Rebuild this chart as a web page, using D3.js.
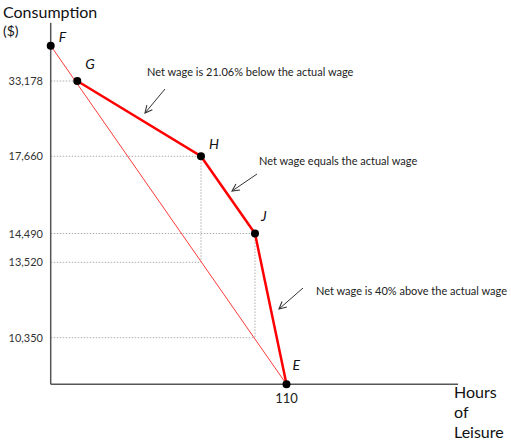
<!DOCTYPE html>
<html>
<head>
<meta charset="utf-8">
<script src="https://cdn.jsdelivr.net/npm/d3@7"></script>
<style>
  body { margin: 0; background: #fff; }
  text { font-family: Lato, "Open Sans", sans-serif; }
</style>
</head>
<body>
<div id="chart"></div>
<script>
// data
let pointNames = ["F", "G", "H", "J", "E"];
let leisure = [0, 12.4, 70.1, 95.3, 110];
let consumption = [36000, 33178, 17660, 14490, 0];
// the thin actual-wage line F -> E
let actualLeisure = [0, 110];
let actualConsumption = [36000, 0];
// y tick labels (axis is not drawn to scale)
let yTicks = [33178, 17660, 14490, 13520, 10350];
let yTickLeisure = [12.4, 70.1, 95.3, 70.1, 95.3];
let xTicks = [110];
let notes = [
  "Net wage is 21.06% below the actual wage",
  "Net wage equals the actual wage",
  "Net wage is 40% above the actual wage"
];

let svgWidth = 511;
let svgHeight = 440;

let svg = d3.select("#chart")
  .append("svg")
  .attr("width", svgWidth)
  .attr("height", svgHeight);

let x = d3.scaleLinear()
  .domain([0, 190])
  .range([50.7, 458]);

// piecewise scale, the picture is schematic
let y = d3.scaleLinear()
  .domain([0, 10350, 13520, 14490, 17660, 33178, 36000])
  .range([384.3, 337.7, 262.3, 233.5, 156.3, 81, 45.7]);

// dotted guide lines
yTicks.forEach(function(v, i) {
  svg.append("line")
    .attr("x1", x(0)).attr("x2", x(yTickLeisure[i]))
    .attr("y1", y(v)).attr("y2", y(v))
    .attr("stroke", "#999").attr("stroke-width", 0.8)
    .attr("stroke-dasharray", "1.5,1.5");
  if (i >= 3) {
    svg.append("line")
      .attr("x1", x(yTickLeisure[i])).attr("x2", x(yTickLeisure[i]))
      .attr("y1", y(yTicks[i - 2])).attr("y2", y(v))
      .attr("stroke", "#999").attr("stroke-width", 0.8)
      .attr("stroke-dasharray", "1.5,1.5");
  }
});

// y tick labels
svg.selectAll(".ylab")
  .data(yTicks)
  .enter()
  .append("text")
  .attr("x", 43)
  .attr("y", d => y(d) + 4)
  .attr("text-anchor", "end")
  .attr("font-size", "11px")
  .attr("fill", "#333")
  .text(d => d3.format(",")(d));

// axes
svg.append("line")
  .attr("x1", x(0)).attr("x2", x(0))
  .attr("y1", 22.7).attr("y2", y(0))
  .attr("stroke", "#555").attr("stroke-width", 1.5);
svg.append("line")
  .attr("x1", x(0)).attr("x2", x(190))
  .attr("y1", y(0)).attr("y2", y(0))
  .attr("stroke", "#555").attr("stroke-width", 1.5);

svg.selectAll(".xlab")
  .data(xTicks)
  .enter()
  .append("text")
  .attr("x", d => x(d))
  .attr("y", 403)
  .attr("text-anchor", "middle")
  .attr("font-size", "13px")
  .attr("fill", "#222")
  .text(d => d);

// axis titles
svg.append("text").attr("x", 3).attr("y", 18)
  .attr("font-size", "16px").attr("fill", "#111").text("Consumption");
svg.append("text").attr("x", 3).attr("y", 36)
  .attr("font-size", "14px").attr("fill", "#111").text("($)");
["Hours", "of", "Leisure"].forEach(function(t, i) {
  svg.append("text").attr("x", 454).attr("y", 398 + i * 20)
    .attr("font-size", "16px").attr("fill", "#111").text(t);
});

// actual wage line
let line = d3.line()
  .x(d => x(d[0]))
  .y(d => y(d[1]));

svg.append("path")
  .datum(d3.zip(actualLeisure, actualConsumption))
  .attr("d", line)
  .attr("fill", "none")
  .attr("stroke", "#ff3b3b")
  .attr("stroke-width", 1);

// net wage budget line G-H-J-E
svg.append("path")
  .datum(d3.zip(leisure, consumption).slice(1))
  .attr("d", line)
  .attr("fill", "none")
  .attr("stroke", "#ff0000")
  .attr("stroke-width", 2.5);

svg.selectAll(".dot")
  .data(d3.zip(leisure, consumption))
  .enter()
  .append("circle")
  .attr("cx", d => x(d[0]))
  .attr("cy", d => y(d[1]))
  .attr("r", 4)
  .attr("fill", "#000");

// point letters
let letterOff = [[8, -4], [8, -12], [8, -7], [6, -13], [6, -14]];
svg.selectAll(".letter")
  .data(pointNames)
  .enter()
  .append("text")
  .attr("x", (d, i) => x(leisure[i]) + letterOff[i][0])
  .attr("y", (d, i) => y(consumption[i]) + letterOff[i][1])
  .attr("font-size", "14px")
  .attr("font-style", "italic")
  .attr("fill", "#111")
  .text(d => d);

// annotations with arrows
svg.append("defs").append("marker")
  .attr("id", "arr")
  .attr("viewBox", "0 0 10 10")
  .attr("refX", 9).attr("refY", 5)
  .attr("markerWidth", 9).attr("markerHeight", 9)
  .attr("orient", "auto")
  .append("path")
  .attr("d", "M1,1 L9,5 L1,9")
  .attr("fill", "none")
  .attr("stroke", "#333")
  .attr("stroke-width", 1.2);

let noteX = [147, 259, 316];
let noteY = [76, 165, 295];
let arrows = [[165, 89, 145, 113], [257, 174, 232, 191], [303, 288, 279, 309]];

notes.forEach(function(t, i) {
  svg.append("text")
    .attr("x", noteX[i]).attr("y", noteY[i])
    .attr("font-size", "11px")
    .attr("fill", "#222")
    .text(t);
  svg.append("line")
    .attr("x1", arrows[i][0]).attr("y1", arrows[i][1])
    .attr("x2", arrows[i][2]).attr("y2", arrows[i][3])
    .attr("stroke", "#333").attr("stroke-width", 1)
    .attr("marker-end", "url(#arr)");
});
</script>
</body>
</html>
